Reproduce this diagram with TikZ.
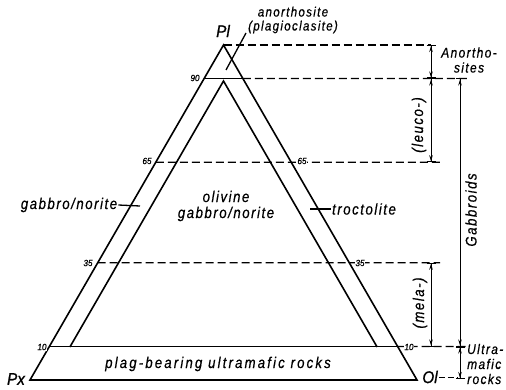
\documentclass[tikz,border=0pt]{standalone}
\usepackage{fontspec}
\setmainfont{Liberation Sans}
\newfontfamily\hand{Liberation Sans}[LetterSpace=10, FakeStretch=0.85, FakeBold=0.6]
\newfontfamily\handnum{Liberation Sans}[FakeStretch=0.9, FakeBold=1]
\usetikzlibrary{arrows.meta,calc}
\begin{document}
\begin{tikzpicture}[x=1pt,y=-1pt,
  edge/.style={line width=1.6pt},
  lvl/.style={line width=1.3pt, dash pattern=on 8pt off 4pt},
  dim/.style={line width=1pt, {Bar[width=9pt]Stealth[length=6pt,width=3.5pt]}-{Stealth[length=6pt,width=3.5pt]Bar[width=9pt]}},
  lab/.style={font=\hand\fontsize{15.5}{16}\selectfont\itshape, inner sep=1pt, align=center},
  slab/.style={font=\hand\fontsize{14}{15}\selectfont\itshape, inner sep=1pt},
  vx/.style={font=\handnum\fontsize{17}{18}\selectfont\itshape, inner sep=1pt},
  num/.style={font=\handnum\fontsize{9}{9}\selectfont\itshape, inner sep=0.8pt, fill=white},
  tick/.style={line width=1.3pt}]
\useasboundingbox (0,0) rectangle (506,390);
% vertices
\coordinate (Pl) at (223.5,45);
\coordinate (Px) at (30,380);
\coordinate (Ol) at (417,380);
\coordinate (iPl) at (223.5,81);
\coordinate (iPx) at (69.9,347);
\coordinate (iOl) at (377.1,347);
% levels on the outer edges
\coordinate (L90) at ($(Pl)!0.1!(Px)$);
\coordinate (R90) at ($(Pl)!0.1!(Ol)$);
\coordinate (L65) at ($(Pl)!0.35!(Px)$);
\coordinate (R65) at ($(Pl)!0.35!(Ol)$);
\coordinate (L35) at ($(Pl)!0.65!(Px)$);
\coordinate (R35) at ($(Pl)!0.65!(Ol)$);
\coordinate (L10) at ($(Pl)!0.9!(Px)$);
\coordinate (R10) at ($(Pl)!0.9!(Ol)$);
% dashed line ends
\coordinate (E100) at (431,45);
\coordinate (E90) at (468,78.5);
\coordinate (E65) at (440,162.25);
\coordinate (E35) at (440,262.75);
\coordinate (E10) at (468,346.5);
% dimension points
\coordinate (a1) at (431,45);
\coordinate (a2) at (431,78.5);
\coordinate (a3) at (431,162.25);
\coordinate (a4) at (431,262.75);
\coordinate (a5) at (431,346.5);
\coordinate (g1) at (460,78.5);
\coordinate (g2) at (460,346.5);
\coordinate (g3) at (460,379);
% triangles
\draw[edge] (Pl) -- (Px) -- (Ol) -- cycle;
\draw[edge] (iPx) -- (iPl) -- (iOl);
\draw[edge] (L90) -- (R90);
\draw[edge] (L10) -- (R10);
% dashed levels
\draw[lvl] (Pl) -- (E100);
\draw[lvl] (R90) -- (E90);
\draw[lvl] (L65) -- (E65);
\draw[lvl] (L35) -- (E35);
\draw[lvl] (R10) -- (E10);
% dimension lines
\draw[dim] (a1) -- (a2);
\draw[dim] (a2) -- (a3);
\draw[dim] (a4) -- (a5);
\draw[dim] (g1) -- (g2);
\draw[dim] (g2) -- (g3);
% level numbers
\node[num] (n90) at (195,78) {90};
\node[num] (n65l) at (147,161) {65};
\node[num] (n65r) at (302,161) {65};
\node[num] (n35l) at (88,263) {35};
\node[num] (n35r) at (360,263) {35};
\node[num] (n10l) at (42,347) {10};
\node[num] (n10r) at (409,347) {10};
% vertex labels
\node[vx] (tPl) at (223,31) {Pl};
\node[vx] (tPx) at (16,379) {Px};
\node[vx] (tOl) at (430,377) {Ol};
\coordinate (olend) at (458,377);
\draw[lvl, line width=1pt, dash pattern=on 6pt off 3pt] (tOl.east) -- (olend);
% labels
\node[lab, font=\hand\fontsize{13.5}{14}\selectfont\itshape] (anor) at (293,20) {anorthosite\\(plagioclasite)};
\coordinate (anorT) at (226,70);
\draw[tick] (246,33) -- (anorT);
\node[slab, align=center] (anos) at (469,60) {Anortho-\\sites};
\node[lab, rotate=90] (leuco) at (419,125) {(leuco-)};
\node[lab, rotate=90] (gabb) at (471,210) {Gabbroids};
\node[lab, rotate=90] (mela) at (420,303) {(mela-)};
\node[slab, align=left, anchor=west] (ultra) at (466,364) {Ultra-\\mafic\\rocks};
\node[lab] (gn) at (69,205) {gabbro/norite};
\coordinate (gnT) at (140,206);
\draw[tick] (gn.east) -- (gnT);
\node[lab] (tr) at (364,209) {troctolite};
\coordinate (trT) at (310,209);
\draw[tick] (tr.west) -- (trT);
\node[lab] (ol) at (226,206) {olivine\\gabbro/norite};
\node[lab, font=\hand\fontsize{15.5}{16}\selectfont\itshape\addfontfeature{LetterSpace=14}] (plag) at (218,364) {plag-bearing ultramafic rocks};
\end{tikzpicture}
\end{document}
